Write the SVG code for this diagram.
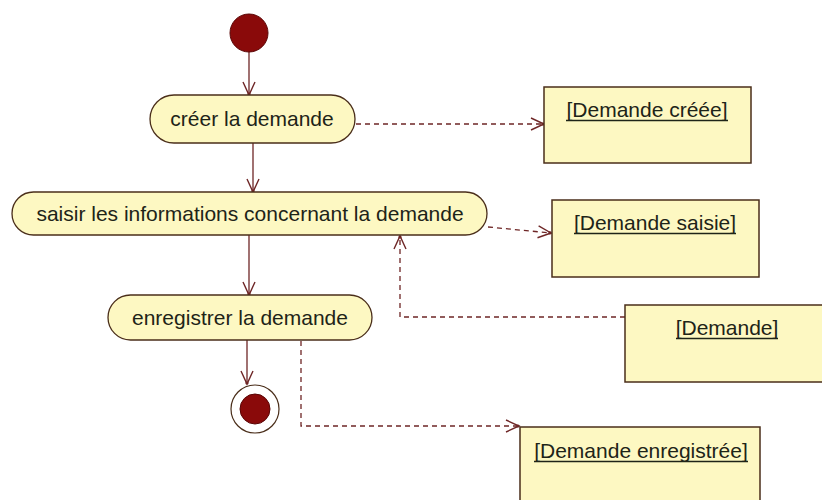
<svg xmlns="http://www.w3.org/2000/svg" width="822" height="500" viewBox="0 0 822 500">
<style>
.act{fill:#fdf8c2;stroke:#4a2e1a;stroke-width:1.3}
.obj{fill:#fdf8c2;stroke:#4a2e1a;stroke-width:1.5}
.t{font-family:"Liberation Sans",Arial,sans-serif;font-size:21px;fill:#1e2418;text-anchor:middle}
.ul{stroke:#1e2418;stroke-width:1.4}
.flow{fill:none;stroke:#6e2626;stroke-width:1.3}
.dash{fill:none;stroke:#6e2626;stroke-width:1.3;stroke-dasharray:5 4}
</style>
<defs>
<marker id="arr" viewBox="-14 -8 16 16" markerWidth="16" markerHeight="16" refX="0" refY="0" orient="auto" markerUnits="userSpaceOnUse">
<path d="M-13,-6 L0,0 L-13,6" fill="none" stroke="#6e2626" stroke-width="1.4"/>
<circle cx="-1" cy="0" r="1.6" fill="#6e2626"/>
</marker>
</defs>
<rect width="822" height="500" fill="#ffffff"/>
<g id="connectors">
<line class="flow" x1="249" y1="52" x2="249" y2="95" marker-end="url(#arr)"/>
<line class="flow" x1="253" y1="143" x2="253" y2="192" marker-end="url(#arr)"/>
<line class="flow" x1="249" y1="235" x2="249" y2="295" marker-end="url(#arr)"/>
<line class="flow" x1="247" y1="340" x2="247" y2="384" marker-end="url(#arr)"/>
<line class="dash" x1="356" y1="124" x2="544" y2="124" marker-end="url(#arr)"/>
<line class="dash" x1="488" y1="227" x2="551" y2="233" marker-end="url(#arr)"/>
<polyline class="dash" points="301,341 301,426 519,426" marker-end="url(#arr)"/>
<polyline class="dash" points="625,317 400,317 400,236" marker-end="url(#arr)"/>
</g>
<g id="start">
<circle cx="249" cy="33" r="19" fill="#8a0a0a" stroke="#5a0505" stroke-width="1"/>
</g>
<g id="creer">
<rect class="act" x="150" y="95" width="205" height="48" rx="24" ry="24"/>
<text class="t" x="252" y="126">créer la demande</text>
</g>
<g id="saisir">
<rect class="act" x="12" y="192" width="475" height="43" rx="21.5" ry="21.5"/>
<text class="t" x="250" y="221">saisir les informations concernant la demande</text>
</g>
<g id="enregistrer">
<rect class="act" x="108" y="295" width="264" height="45" rx="22.5" ry="22.5"/>
<text class="t" x="240" y="325">enregistrer la demande</text>
</g>
<g id="end">
<circle cx="255" cy="409" r="24" fill="#ffffff" stroke="#4a2e1a" stroke-width="1.2"/>
<circle cx="255" cy="409" r="15" fill="#8a0a0a" stroke="#5a0505" stroke-width="1"/>
</g>
<g id="obj-creee">
<rect class="obj" x="544" y="87" width="207" height="76"/>
<text class="t" x="647" y="117">[Demande créée]</text>
<line class="ul" x1="566" y1="120.5" x2="728" y2="120.5"/>
</g>
<g id="obj-saisie">
<rect class="obj" x="552" y="200" width="207" height="77"/>
<text class="t" x="655" y="230">[Demande saisie]</text>
<line class="ul" x1="574" y1="233.5" x2="736" y2="233.5"/>
</g>
<g id="obj-demande">
<rect class="obj" x="625" y="305" width="210" height="77"/>
<text class="t" x="727" y="335">[Demande]</text>
<line class="ul" x1="676" y1="338.5" x2="778" y2="338.5"/>
</g>
<g id="obj-enregistree">
<rect class="obj" x="520" y="427" width="240" height="80"/>
<text class="t" x="641" y="458">[Demande enregistrée]</text>
<line class="ul" x1="534" y1="461.5" x2="748" y2="461.5"/>
</g>
</svg>
